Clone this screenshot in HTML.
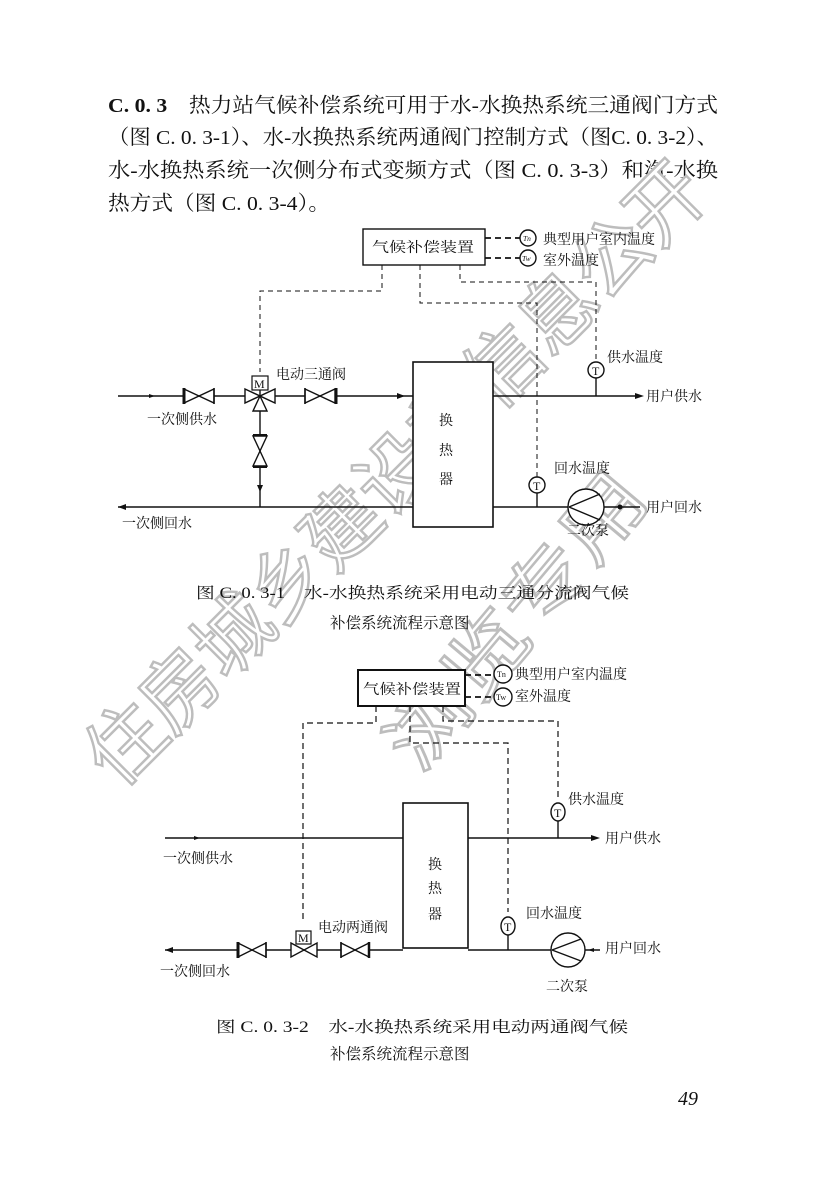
<!DOCTYPE html>
<html><head><meta charset="utf-8"><style>
html,body{margin:0;padding:0;background:#fff;}
svg{display:block;}
text{font-family:"Liberation Serif","Noto Serif CJK SC",serif;fill:#111;}
.wm{font-family:"Liberation Sans","Noto Sans CJK SC",sans-serif;fill:#fff;stroke:#bdbdbd;stroke-width:2.5;}
</style></head><body>
<svg width="827" height="1198" viewBox="0 0 827 1198" xmlns="http://www.w3.org/2000/svg">
<rect width="827" height="1198" fill="#fff"/>
<!-- header paragraph -->
<g font-size="20.5">
<text x="108" y="112" textLength="610" lengthAdjust="spacingAndGlyphs"><tspan font-weight="bold">C. 0. 3</tspan>　热力站气候补偿系统可用于水-水换热系统三通阀门方式</text>
<text x="108" y="144" textLength="610" lengthAdjust="spacingAndGlyphs">（图 C. 0. 3-1）、水-水换热系统两通阀门控制方式（图C. 0. 3-2）、</text>
<text x="108" y="177" textLength="610" lengthAdjust="spacingAndGlyphs">水-水换热系统一次侧分布式变频方式（图 C. 0. 3-3）和汽-水换</text>
<text x="108" y="210" textLength="222" lengthAdjust="spacingAndGlyphs">热方式（图 C. 0. 3-4）。</text>
</g>

<!-- watermark (drawn under diagrams) -->
<text class="wm" font-size="78" transform="translate(118,790) rotate(-45)" textLength="840" lengthAdjust="spacingAndGlyphs">住房城乡建设部信息公开</text>
<text class="wm" font-size="74" transform="translate(420,775) rotate(-50)" textLength="360" lengthAdjust="spacingAndGlyphs">浏览专用</text>

<!-- Diagram 1 -->
<g stroke="#111" fill="none" stroke-width="1.4">
<rect x="363" y="229" width="122" height="36" fill="#fff"/>
<!-- sensors -->
<line x1="485" y1="238" x2="520" y2="238" stroke-dasharray="6,4" stroke-width="1.8"/>
<line x1="485" y1="258" x2="520" y2="258" stroke-dasharray="6,4" stroke-width="1.8"/>
<circle cx="528" cy="238" r="8" fill="#fff"/>
<circle cx="528" cy="258" r="8" fill="#fff"/>
<!-- dashed control lines -->
<polyline points="382,265 382,291 260,291 260,372" stroke-dasharray="5,4" stroke-width="1"/>
<polyline points="420,265 420,303 537,303 537,477" stroke-dasharray="5,4" stroke-width="1"/>
<polyline points="460,265 460,282 596,282 596,362" stroke-dasharray="5,4" stroke-width="1"/>
<!-- supply line -->
<line x1="118" y1="396" x2="413" y2="396"/>
<line x1="493" y1="396" x2="638" y2="396"/>
<!-- return -->
<line x1="118" y1="507" x2="413" y2="507"/>
<line x1="493" y1="507" x2="640" y2="507"/>
<!-- HX -->
<rect x="413" y="362" width="80" height="165" fill="#fff" stroke-width="1.6"/>
<!-- valve 1 -->
<path d="M184,389 L214,403 L214,389 L184,403 Z" fill="#fff"/>
<line x1="184" y1="388" x2="184" y2="404" stroke-width="3"/>
<line x1="214" y1="388" x2="214" y2="404" stroke-width="1.5"/>
<!-- 3-way valve -->
<path d="M245,389 L275,403 L275,389 L245,403 Z" fill="#fff"/>
<path d="M253,411 L267,411 L260,396 Z" fill="#fff"/>
<line x1="260" y1="386" x2="260" y2="396"/>
<rect x="252" y="376" width="16" height="14" fill="#fff" stroke-width="1.2"/>
<!-- valve 2 -->
<path d="M305,389 L335,403 L335,389 L305,403 Z" fill="#fff"/>
<line x1="305" y1="388" x2="305" y2="404" stroke-width="1.5"/>
<line x1="336" y1="388" x2="336" y2="404" stroke-width="3"/>
<!-- bypass -->
<line x1="260" y1="411" x2="260" y2="507"/>
<path d="M253,436 L267,466 L253,466 L267,436 Z" fill="#fff"/>
<line x1="253" y1="435" x2="267" y2="435" stroke-width="2"/>
<line x1="253" y1="467" x2="267" y2="467" stroke-width="2"/>
<!-- temps -->
<line x1="596" y1="378" x2="596" y2="396"/>
<circle cx="596" cy="370" r="8" fill="#fff"/>
<line x1="537" y1="493" x2="537" y2="507"/>
<circle cx="537" cy="485" r="8" fill="#fff"/>
<!-- pump -->
<circle cx="586" cy="507" r="18" fill="#fff"/>
<path d="M569,507 L600,494 M569,507 L600,520" />
</g>
<g fill="#111">
<path d="M118,507 l8,-3 v6 z"/>
<path d="M405,396 l-8,-3 v6 z"/>
<path d="M644,396 l-9,-3 v6 z"/>
<path d="M260,492 l-3,-7 h6 z"/>
<path d="M155,396 l-6,-2 v4 z"/>
<circle cx="620" cy="507" r="2.5"/>
</g>
<g font-size="14">
<text x="372" y="252" textLength="102" lengthAdjust="spacingAndGlyphs">气候补偿装置</text>
<text x="543" y="244">典型用户室内温度</text>
<text x="543" y="265">室外温度</text>
<text x="276" y="379">电动三通阀</text>
<text x="607" y="362">供水温度</text>
<text x="646" y="401">用户供水</text>
<text x="147" y="424">一次侧供水</text>
<text x="554" y="473">回水温度</text>
<text x="646" y="512">用户回水</text>
<text x="122" y="528">一次侧回水</text>
<text x="567" y="535">二次泵</text>
<text x="439" y="425">换</text>
<text x="439" y="455">热</text>
<text x="439" y="484">器</text>
</g>
<g font-size="7.5" font-style="italic"><text x="523" y="241">Tn</text><text x="522" y="261">Tw</text></g>
<g font-size="12"><text x="254" y="388">M</text><text x="592" y="375">T</text><text x="533" y="490">T</text></g>
<g font-size="15.5">
<text x="196" y="598" textLength="433" lengthAdjust="spacingAndGlyphs">图 C. 0. 3-1　水-水换热系统采用电动三通分流阀气候</text>
<text x="330" y="628">补偿系统流程示意图</text>
</g>

<!-- Diagram 2 -->
<g stroke="#111" fill="none" stroke-width="1.4">
<rect x="358" y="670" width="107" height="36" fill="#fff" stroke-width="2"/>
<line x1="465" y1="675" x2="495" y2="675" stroke-dasharray="6,4" stroke-width="1.8"/>
<line x1="465" y1="697" x2="495" y2="697" stroke-dasharray="6,4" stroke-width="1.8"/>
<circle cx="503" cy="674" r="9" fill="#fff"/>
<circle cx="503" cy="697" r="9" fill="#fff"/>
<polyline points="376,706 376,723 303,723 303,920" stroke-dasharray="6,4" stroke-width="1.2"/>
<polyline points="410,706 410,743 508,743 508,912" stroke-dasharray="6,4" stroke-width="1.2"/>
<polyline points="443,706 443,721 558,721 558,800" stroke-dasharray="6,4" stroke-width="1.2"/>
<line x1="165" y1="838" x2="403" y2="838"/>
<line x1="468" y1="838" x2="595" y2="838"/>
<line x1="165" y1="950" x2="403" y2="950"/>
<line x1="468" y1="950" x2="600" y2="950"/>
<rect x="403" y="803" width="65" height="145" fill="#fff" stroke-width="1.6"/>
<!-- valves -->
<path d="M238,943 L266,957 L266,943 L238,957 Z" fill="#fff"/>
<line x1="238" y1="942" x2="238" y2="958" stroke-width="3"/>
<line x1="266" y1="942" x2="266" y2="958" stroke-width="1.5"/>
<path d="M291,943 L317,957 L317,943 L291,957 Z" fill="#fff"/>
<rect x="296" y="931" width="15" height="13" fill="#fff" stroke-width="1.2"/>
<path d="M341,943 L369,957 L369,943 L341,957 Z" fill="#fff"/>
<line x1="341" y1="942" x2="341" y2="958" stroke-width="1.5"/>
<line x1="369" y1="942" x2="369" y2="958" stroke-width="2.5"/>
<line x1="558" y1="820" x2="558" y2="838"/>
<ellipse cx="558" cy="812" rx="7" ry="9" fill="#fff"/>
<line x1="508" y1="935" x2="508" y2="950"/>
<ellipse cx="508" cy="926" rx="7" ry="9" fill="#fff"/>
<circle cx="568" cy="950" r="17" fill="#fff"/>
<path d="M552,950 L581,939 M552,950 L581,961"/>
</g>
<g fill="#111">
<path d="M165,950 l8,-3 v6 z"/>
<path d="M600,838 l-9,-3 v6 z"/>
<path d="M200,838 l-6,-2 v4 z"/>
<path d="M588,950 l6,-2 v4 z"/>
</g>
<g font-size="14">
<text x="363" y="694" textLength="98" lengthAdjust="spacingAndGlyphs">气候补偿装置</text>
<text x="515" y="679">典型用户室内温度</text>
<text x="515" y="701">室外温度</text>
<text x="318" y="932">电动两通阀</text>
<text x="568" y="804">供水温度</text>
<text x="605" y="843">用户供水</text>
<text x="163" y="863">一次侧供水</text>
<text x="526" y="918">回水温度</text>
<text x="605" y="953">用户回水</text>
<text x="160" y="976">一次侧回水</text>
<text x="546" y="991">二次泵</text>
<text x="428" y="869">换</text>
<text x="428" y="893">热</text>
<text x="428" y="919">器</text>
</g>
<g font-size="8"><text x="497" y="677">Tn</text><text x="496" y="700">Tw</text></g>
<g font-size="12"><text x="298" y="942">M</text><text x="554" y="817">T</text><text x="504" y="931">T</text></g>
<g font-size="15.5">
<text x="216" y="1032" textLength="412" lengthAdjust="spacingAndGlyphs">图 C. 0. 3-2　水-水换热系统采用电动两通阀气候</text>
<text x="330" y="1059">补偿系统流程示意图</text>
</g>
<text x="678" y="1105" font-size="20" font-style="italic" fill="#333">49</text>
</svg>
</body></html>
